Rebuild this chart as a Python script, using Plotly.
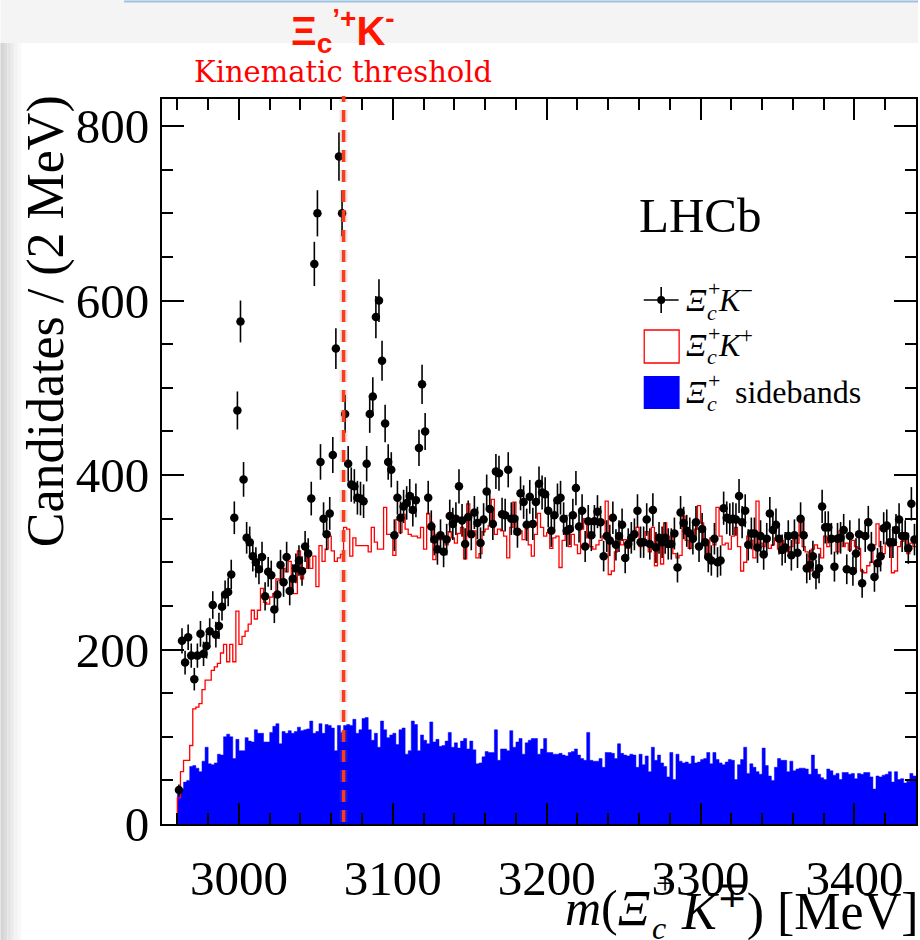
import numpy as np
import plotly.graph_objects as go

# ---------------- data (2 MeV bins from 2960 to 3440 MeV) ----------------
BIN_LO = 2960
BIN_W = 2

# Xi_c+ K- candidates (black points)
data_km = [
    39, 210, 185, 214, 193, 166, 193, 218, 195, 204,
    221, 251, 217, 227, 249, 263, 266, 286, 351, 474,
    576, 395, 328, 323, 307, 300, 292, 306, 261, 289,
    285, 246, 263, 297, 277, 306, 267, 281, 293, 302,
    290, 318, 310, 373, 642, 700, 415, 350, 332, 356,
    423, 545, 765, 700, 470, 413, 389, 387, 374, 373,
    370, 413, 470, 490, 581, 600, 531, 459, 415, 406,
    331, 374, 351, 364, 368, 376, 360, 371, 431, 504,
    450, 374, 341, 326, 315, 331, 312, 326, 353, 344,
    350, 387, 348, 321, 352, 332, 357, 345, 322, 349,
    381, 361, 344, 404, 402, 355, 354, 406, 350, 350,
    335, 379, 369, 343, 375, 344, 369, 390, 380, 378,
    359, 336, 354, 371, 374, 350, 336, 338, 354, 385,
    341, 359, 318, 347, 331, 347, 358, 346, 307, 330,
    325, 351, 320, 330, 343, 305, 321, 328, 332, 359,
    323, 323, 349, 321, 360, 317, 328, 323, 328, 321,
    321, 333, 294, 357, 345, 336, 333, 327, 346, 318,
    338, 323, 306, 302, 327, 300, 302, 362, 351, 349,
    350, 349, 376, 346, 359, 320, 333, 333, 317, 330,
    309, 327, 356, 337, 343, 327, 314, 317, 330, 308,
    331, 311, 350, 331, 293, 297, 307, 286, 293, 364,
    340, 340, 327, 295, 327, 328, 337, 292, 330, 290,
    310, 332, 276, 330, 346, 317, 283, 299, 307, 339,
    342, 323, 323, 337, 349, 330, 330, 316, 367, 326,
]

# Xi_c+ K+ (red outline histogram)
data_kp = [
    30, 60, 73, 73, 90, 132, 134, 138, 154, 165,
    165, 176, 180, 184, 196, 206, 186, 206, 186, 244,
    206, 215, 221, 229, 245, 235, 245, 270, 254, 252,
    260, 264, 281, 279, 293, 289, 301, 264, 264, 313,
    281, 293, 305, 293, 307, 272, 319, 301, 315, 330,
    313, 301, 305, 309, 340, 338, 307, 328, 319, 319,
    319, 319, 312, 340, 323, 315, 315, 363, 332, 332,
    308, 349, 334, 355, 338, 332, 330, 330, 328, 340,
    315, 356, 346, 303, 332, 326, 330, 320, 335, 328,
    322, 333, 340, 304, 367, 330, 336, 305, 310, 335,
    338, 342, 372, 332, 338, 336, 330, 305, 340, 369,
    332, 336, 326, 338, 320, 307, 332, 356, 340, 330,
    334, 316, 328, 330, 294, 325, 336, 318, 332, 320,
    310, 338, 350, 328, 318, 315, 320, 325, 330, 370,
    286, 290, 312, 326, 320, 326, 316, 330, 330, 340,
    318, 325, 335, 312, 340, 296, 322, 298, 345, 318,
    330, 310, 305, 308, 353, 325, 316, 330, 338, 365,
    345, 320, 310, 328, 320, 363, 330, 320, 322, 315,
    330, 340, 318, 290, 300, 330, 325, 305, 370, 322,
    318, 330, 316, 320, 328, 315, 325, 318, 312, 318,
    330, 322, 346, 318, 312, 290, 315, 320, 316, 305,
    330, 318, 325, 330, 312, 336, 318, 322, 314, 325,
    318, 316, 290, 288, 296, 300, 320, 344, 318, 310,
    322, 318, 288, 290, 318, 324, 330, 310, 322, 318,
]

# Xi_c+ sidebands (blue filled histogram)
data_sb = [
    34, 40, 48, 50, 66, 67, 64, 60, 72, 88,
    69, 68, 70, 80, 79, 100, 103, 100, 75, 97,
    84, 84, 99, 95, 94, 108, 104, 104, 94, 94,
    105, 112, 115, 92, 106, 104, 107, 104, 106, 111,
    107, 108, 109, 118, 104, 106, 115, 104, 114, 113,
    110, 84, 113, 105, 113, 114, 113, 120, 104, 108,
    121, 122, 108, 96, 104, 88, 118, 108, 99, 102,
    104, 91, 108, 110, 80, 84, 118, 114, 84, 102,
    96, 92, 117, 94, 97, 89, 90, 95, 105, 88,
    93, 87, 95, 98, 86, 95, 85, 69, 70, 77,
    83, 82, 82, 108, 73, 86, 86, 84, 107, 88,
    94, 98, 80, 93, 96, 98, 98, 80, 86, 98,
    82, 82, 80, 80, 81, 79, 78, 82, 83, 86,
    79, 75, 73, 105, 73, 72, 72, 75, 65, 82,
    82, 81, 75, 92, 81, 79, 78, 80, 79, 65,
    80, 68, 78, 60, 88, 73, 79, 70, 66, 54,
    82, 51, 80, 72, 70, 71, 69, 78, 70, 71,
    74, 75, 82, 69, 82, 74, 70, 68, 71, 74,
    73, 51, 68, 74, 88, 58, 69, 65, 60, 57,
    87, 67, 55, 50, 65, 75, 73, 73, 60, 72,
    61, 63, 64, 64, 63, 57, 79, 63, 57, 53,
    51, 63, 61, 56, 58, 51, 59, 59, 57, 58,
    52, 58, 57, 59, 59, 54, 40, 55, 54, 56,
    57, 60, 48, 60, 51, 52, 47, 49, 58, 55,
]

X_TICKS = [3000, 3100, 3200, 3300, 3400]
Y_TICKS = [0, 200, 400, 600, 800]
THRESHOLD = 3068  # Xi_c'+ K- kinematic threshold (MeV)

n = len(data_km)
assert n == len(data_kp) == len(data_sb) == 240
edges = BIN_LO + BIN_W * np.arange(n + 1)
centers = edges[:-1] + BIN_W / 2

# ---------------- geometry helpers (pixels -> paper) ----------------
W, H = 920, 940
ML, MR, MT, MB = 162, 2, 99, 116
PW, PH = W - ML - MR, H - MT - MB


def xp(px):
    return (px - ML) / PW


def yp(py):
    return (H - MB - py) / PH


fig = go.Figure()

# blue sidebands, filled step histogram
fig.add_trace(go.Scatter(
    x=np.concatenate([[edges[0]], edges]),
    y=np.concatenate([[0], data_sb, [data_sb[-1]]]),
    mode="lines", line=dict(shape="hv", width=0.5, color="#0000ff"),
    fill="tozeroy", fillcolor="#0000ff", hoverinfo="skip"))

# red K+ outline histogram
fig.add_trace(go.Scatter(
    x=np.concatenate([[edges[0]], edges]),
    y=np.concatenate([[0], data_kp, [data_kp[-1]]]),
    mode="lines", line=dict(shape="hv", width=1.3, color="#ff0000"),
    hoverinfo="skip"))

# black K- points with Poisson errors
fig.add_trace(go.Scatter(
    x=centers, y=data_km, mode="markers",
    marker=dict(size=8.5, color="black"),
    error_y=dict(type="data", array=np.sqrt(np.array(data_km, float)),
                 visible=True, thickness=1.6, width=0, color="black")))

serif = "Liberation Serif"

fig.update_layout(
    width=W, height=H,
    margin=dict(l=ML, r=MR, t=MT, b=MB),
    paper_bgcolor="white", plot_bgcolor="white",
    showlegend=False,
    font=dict(family=serif, color="black"),
    xaxis=dict(range=[2950, 3440], tickvals=X_TICKS,
               ticktext=[str(v) for v in X_TICKS],
               ticks="inside", ticklen=21, tickwidth=1.8, tickcolor="black",
               showline=True, linewidth=2, linecolor="black", mirror="ticks",
               showgrid=False, zeroline=False,
               tickfont=dict(family=serif, size=49, color="black"),
               ticklabelstandoff=10,
               minor=dict(tick0=2960, dtick=20, ticks="inside", ticklen=11,
                          tickwidth=1.8, tickcolor="black", showgrid=False)),
    yaxis=dict(range=[0, 831], tickvals=Y_TICKS,
               ticktext=[str(v) for v in Y_TICKS],
               ticks="inside", ticklen=22, tickwidth=1.8, tickcolor="black",
               showline=True, linewidth=2, linecolor="black", mirror="ticks",
               showgrid=False, zeroline=False,
               tickfont=dict(family=serif, size=49, color="black"),
               ticklabelstandoff=1,
               minor=dict(tick0=0, dtick=50, ticks="inside", ticklen=11,
                          tickwidth=1.8, tickcolor="black", showgrid=False)),
)

shapes = []
# screenshot background decorations
shapes.append(dict(type="rect", xref="paper", yref="paper", layer="below",
                   x0=xp(0), x1=xp(W), y0=yp(43), y1=yp(0),
                   fillcolor="#f4f4f4", line=dict(width=0)))
shapes.append(dict(type="line", xref="paper", yref="paper",
                   x0=xp(124), x1=xp(W), y0=yp(1.5), y1=yp(1.5),
                   line=dict(color="#9fc2e2", width=2)))
grays = ["#d4d4d4", "#dcdcdc", "#e4e4e4", "#ececec", "#f3f3f3", "#f9f9f9"]
for i, g in enumerate(grays):
    shapes.append(dict(type="rect", xref="paper", yref="paper", layer="below",
                       x0=xp(i * 3.5), x1=xp((i + 1) * 3.5), y0=yp(H), y1=yp(43),
                       fillcolor=g, line=dict(width=0)))

# threshold dashed line (with soft shadow)
shapes.append(dict(type="line", xref="x", yref="paper", layer="above",
                   x0=THRESHOLD, x1=THRESHOLD, y0=yp(822), y1=yp(96),
                   line=dict(color="rgba(120,120,120,0.18)", width=8, dash="12px,8px")))
shapes.append(dict(type="line", xref="x", yref="paper", layer="above",
                   x0=THRESHOLD, x1=THRESHOLD, y0=yp(822), y1=yp(96),
                   line=dict(color="#ff3a1a", width=3.5, dash="12px,8px")))

# legend symbols
shapes.append(dict(type="line", xref="paper", yref="paper",
                   x0=xp(645), x1=xp(680), y0=yp(300), y1=yp(300),
                   line=dict(color="black", width=1.6)))
shapes.append(dict(type="line", xref="paper", yref="paper",
                   x0=xp(662.5), x1=xp(662.5), y0=yp(287), y1=yp(313),
                   line=dict(color="black", width=1.6)))
shapes.append(dict(type="circle", xref="paper", yref="paper",
                   x0=xp(658.5), x1=xp(666.5), y0=yp(304), y1=yp(296),
                   fillcolor="black", line=dict(color="black", width=0)))
shapes.append(dict(type="rect", xref="paper", yref="paper",
                   x0=xp(645.5), x1=xp(680.5), y0=yp(363), y1=yp(330),
                   fillcolor="white", line=dict(color="#ff0000", width=1.3)))
shapes.append(dict(type="rect", xref="paper", yref="paper",
                   x0=xp(645), x1=xp(681), y0=yp(409), y1=yp(376),
                   fillcolor="#0000ff", line=dict(color="#0000ff", width=0)))
fig.update_layout(shapes=shapes)

ann = []


def text(s, x, y, size, xanchor="center", yanchor="middle", color="black",
         family=serif, angle=0):
    ann.append(dict(text=s, x=xp(x), y=yp(y), xref="paper", yref="paper",
                    showarrow=False, xanchor=xanchor, yanchor=yanchor,
                    textangle=angle, borderpad=0,
                    font=dict(family=family, size=size, color=color)))


# top red labels
text("<b>Ξ<sub>c</sub><sup>’+</sup>K<sup>-</sup></b>", 343, 31, 40,
     color="#ff1500", family="Liberation Sans")
text("Kinematic threshold", 343, 72, 29, color="#ff0000", family="DejaVu Serif")

# LHCb
text("LHCb", 702, 216, 49)

# legend texts
for yc, ksign, extra in [(300, "−", None), (345, "+", None), (392, None, "sidebands")]:
    text("<i>Ξ</i>", 686, yc, 32, xanchor="left")
    text("<i>c</i>", 707, yc + 12, 22, xanchor="left")
    text("+", 708, yc - 12, 22, xanchor="left")
    if ksign:
        text("<i>K</i><sup>%s</sup>" % ksign, 718, yc - 2, 32, xanchor="left")
    else:
        text(extra, 736, yc, 32, xanchor="left")

# y-axis title
text("Candidates / (2 MeV)", 46, 321, 52, angle=-90)

# x-axis title (pieces, to stack sub/superscripts)
text("<i>m</i>(<i>Ξ</i>", 652, 908, 50, xanchor="right")
text("<i>c</i>", 652, 928, 32, xanchor="left")
text("+", 656, 883, 32, xanchor="left")
text("<i>K</i><sup>∓</sup>) [MeV]", 681, 908, 52, xanchor="left")

fig.update_layout(annotations=ann)

fig.write_html("out.html",
               config={"displayModeBar": False},
               post_script="document.body.style.margin='0px';"
                           "document.body.style.padding='0px';")
